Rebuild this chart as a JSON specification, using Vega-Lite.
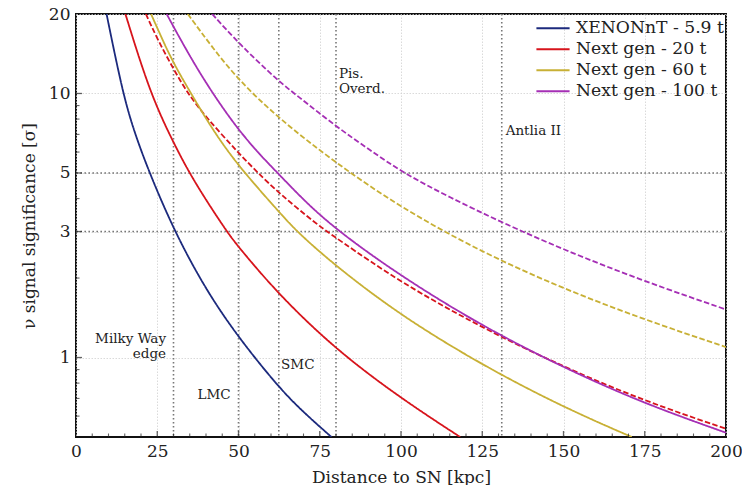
{
  "$schema": "https://vega.github.io/schema/vega-lite/v6.json",
  "width": 650,
  "height": 423,
  "autosize": {"type": "none"},
  "padding": {"left": 76, "top": 14, "right": 16, "bottom": 48},
  "background": "white",
  "config": {
    "font": "DejaVu Serif",
    "view": {"stroke": "#111111", "strokeWidth": 2},
    "axis": {"labelFont": "DejaVu Serif", "titleFont": "DejaVu Serif", "labelFontSize": 17, "titleFontSize": 17, "titleFontWeight": "normal", "labelColor": "#222222", "titleColor": "#222222", "domain": false, "ticks": false, "grid": true, "gridColor": "#d0d0d0", "gridDash": [1.5, 1.5], "gridWidth": 0.8, "labelFlush": false, "labelOverlap": false},
    "legend": {"labelFont": "DejaVu Serif", "labelFontSize": 17.2, "labelColor": "#222222", "orient": "none", "legendX": 459, "legendY": 4, "padding": 0, "symbolType": "stroke", "symbolStrokeWidth": 2, "symbolSize": 1100, "labelOffset": 5, "rowPadding": 0, "clipHeight": 20.3}
  },
  "datasets": {
    "curves": [
      {"d": 9.4, "sig": 20, "series": "XENONnT - 5.9 t", "style": "solid"},
      {"d": 14.4, "sig": 10, "series": "XENONnT - 5.9 t", "style": "solid"},
      {"d": 18, "sig": 7.1, "series": "XENONnT - 5.9 t", "style": "solid"},
      {"d": 22.6, "sig": 5, "series": "XENONnT - 5.9 t", "style": "solid"},
      {"d": 30.3, "sig": 3, "series": "XENONnT - 5.9 t", "style": "solid"},
      {"d": 40, "sig": 1.8, "series": "XENONnT - 5.9 t", "style": "solid"},
      {"d": 50, "sig": 1.19, "series": "XENONnT - 5.9 t", "style": "solid"},
      {"d": 62.4, "sig": 0.77, "series": "XENONnT - 5.9 t", "style": "solid"},
      {"d": 70, "sig": 0.62, "series": "XENONnT - 5.9 t", "style": "solid"},
      {"d": 78.6, "sig": 0.5, "series": "XENONnT - 5.9 t", "style": "solid"},

      {"d": 15.2, "sig": 20, "series": "Next gen - 20 t", "style": "solid"},
      {"d": 22.8, "sig": 10, "series": "Next gen - 20 t", "style": "solid"},
      {"d": 30, "sig": 6.5, "series": "Next gen - 20 t", "style": "solid"},
      {"d": 34.9, "sig": 5, "series": "Next gen - 20 t", "style": "solid"},
      {"d": 40, "sig": 3.95, "series": "Next gen - 20 t", "style": "solid"},
      {"d": 46.4, "sig": 3, "series": "Next gen - 20 t", "style": "solid"},
      {"d": 50, "sig": 2.62, "series": "Next gen - 20 t", "style": "solid"},
      {"d": 62.4, "sig": 1.73, "series": "Next gen - 20 t", "style": "solid"},
      {"d": 80, "sig": 1.07, "series": "Next gen - 20 t", "style": "solid"},
      {"d": 100, "sig": 0.7, "series": "Next gen - 20 t", "style": "solid"},
      {"d": 118.2, "sig": 0.5, "series": "Next gen - 20 t", "style": "solid"},

      {"d": 21.5, "sig": 20, "series": "Next gen - 20 t", "style": "dashed"},
      {"d": 25, "sig": 16.1, "series": "Next gen - 20 t", "style": "dashed"},
      {"d": 30, "sig": 12.36, "series": "Next gen - 20 t", "style": "dashed"},
      {"d": 34.4, "sig": 10, "series": "Next gen - 20 t", "style": "dashed"},
      {"d": 40, "sig": 8.13, "series": "Next gen - 20 t", "style": "dashed"},
      {"d": 50, "sig": 5.95, "series": "Next gen - 20 t", "style": "dashed"},
      {"d": 56, "sig": 5.0, "series": "Next gen - 20 t", "style": "dashed"},
      {"d": 62.4, "sig": 4.2, "series": "Next gen - 20 t", "style": "dashed"},
      {"d": 74, "sig": 3.2, "series": "Next gen - 20 t", "style": "dashed"},
      {"d": 80, "sig": 2.84, "series": "Next gen - 20 t", "style": "dashed"},
      {"d": 100, "sig": 1.92, "series": "Next gen - 20 t", "style": "dashed"},
      {"d": 125, "sig": 1.295, "series": "Next gen - 20 t", "style": "dashed"},
      {"d": 150, "sig": 0.92, "series": "Next gen - 20 t", "style": "dashed"},
      {"d": 175, "sig": 0.684, "series": "Next gen - 20 t", "style": "dashed"},
      {"d": 200, "sig": 0.537, "series": "Next gen - 20 t", "style": "dashed"},

      {"d": 23.1, "sig": 20, "series": "Next gen - 60 t", "style": "solid"},
      {"d": 26, "sig": 16.6, "series": "Next gen - 60 t", "style": "solid"},
      {"d": 30, "sig": 13.0, "series": "Next gen - 60 t", "style": "solid"},
      {"d": 35.4, "sig": 10, "series": "Next gen - 60 t", "style": "solid"},
      {"d": 42, "sig": 7.29, "series": "Next gen - 60 t", "style": "solid"},
      {"d": 50, "sig": 5.3, "series": "Next gen - 60 t", "style": "solid"},
      {"d": 62.4, "sig": 3.57, "series": "Next gen - 60 t", "style": "solid"},
      {"d": 67.9, "sig": 3.0, "series": "Next gen - 60 t", "style": "solid"},
      {"d": 80, "sig": 2.215, "series": "Next gen - 60 t", "style": "solid"},
      {"d": 100, "sig": 1.44, "series": "Next gen - 60 t", "style": "solid"},
      {"d": 125, "sig": 0.935, "series": "Next gen - 60 t", "style": "solid"},
      {"d": 150, "sig": 0.648, "series": "Next gen - 60 t", "style": "solid"},
      {"d": 171, "sig": 0.5, "series": "Next gen - 60 t", "style": "solid"},

      {"d": 34.4, "sig": 20, "series": "Next gen - 60 t", "style": "dashed"},
      {"d": 42, "sig": 14.9, "series": "Next gen - 60 t", "style": "dashed"},
      {"d": 50, "sig": 11.25, "series": "Next gen - 60 t", "style": "dashed"},
      {"d": 62.4, "sig": 8.03, "series": "Next gen - 60 t", "style": "dashed"},
      {"d": 80, "sig": 5.45, "series": "Next gen - 60 t", "style": "dashed"},
      {"d": 100, "sig": 3.69, "series": "Next gen - 60 t", "style": "dashed"},
      {"d": 125, "sig": 2.5, "series": "Next gen - 60 t", "style": "dashed"},
      {"d": 150, "sig": 1.82, "series": "Next gen - 60 t", "style": "dashed"},
      {"d": 175, "sig": 1.39, "series": "Next gen - 60 t", "style": "dashed"},
      {"d": 200, "sig": 1.095, "series": "Next gen - 60 t", "style": "dashed"},

      {"d": 27.9, "sig": 20, "series": "Next gen - 100 t", "style": "solid"},
      {"d": 30, "sig": 17.9, "series": "Next gen - 100 t", "style": "solid"},
      {"d": 35, "sig": 13.87, "series": "Next gen - 100 t", "style": "solid"},
      {"d": 40, "sig": 10.97, "series": "Next gen - 100 t", "style": "solid"},
      {"d": 45, "sig": 8.87, "series": "Next gen - 100 t", "style": "solid"},
      {"d": 50, "sig": 7.3, "series": "Next gen - 100 t", "style": "solid"},
      {"d": 56, "sig": 5.96, "series": "Next gen - 100 t", "style": "solid"},
      {"d": 62.4, "sig": 4.95, "series": "Next gen - 100 t", "style": "solid"},
      {"d": 70, "sig": 3.95, "series": "Next gen - 100 t", "style": "solid"},
      {"d": 80, "sig": 3.05, "series": "Next gen - 100 t", "style": "solid"},
      {"d": 100, "sig": 2.03, "series": "Next gen - 100 t", "style": "solid"},
      {"d": 125, "sig": 1.314, "series": "Next gen - 100 t", "style": "solid"},
      {"d": 150, "sig": 0.915, "series": "Next gen - 100 t", "style": "solid"},
      {"d": 175, "sig": 0.668, "series": "Next gen - 100 t", "style": "solid"},
      {"d": 200, "sig": 0.519, "series": "Next gen - 100 t", "style": "solid"},

      {"d": 41.9, "sig": 20, "series": "Next gen - 100 t", "style": "dashed"},
      {"d": 50, "sig": 15.5, "series": "Next gen - 100 t", "style": "dashed"},
      {"d": 62.4, "sig": 11.1, "series": "Next gen - 100 t", "style": "dashed"},
      {"d": 67.9, "sig": 9.85, "series": "Next gen - 100 t", "style": "dashed"},
      {"d": 80, "sig": 7.5, "series": "Next gen - 100 t", "style": "dashed"},
      {"d": 90.5, "sig": 6.1, "series": "Next gen - 100 t", "style": "dashed"},
      {"d": 100.7, "sig": 5.0, "series": "Next gen - 100 t", "style": "dashed"},
      {"d": 115, "sig": 4.04, "series": "Next gen - 100 t", "style": "dashed"},
      {"d": 131, "sig": 3.25, "series": "Next gen - 100 t", "style": "dashed"},
      {"d": 150, "sig": 2.56, "series": "Next gen - 100 t", "style": "dashed"},
      {"d": 175, "sig": 1.94, "series": "Next gen - 100 t", "style": "dashed"},
      {"d": 200, "sig": 1.52, "series": "Next gen - 100 t", "style": "dashed"}
    ]
  },
  "layer": [
    {
      "data": {"values": [{"d": 30}, {"d": 50}, {"d": 62.4}, {"d": 80}, {"d": 131}]},
      "mark": {"type": "rule", "color": "#777777", "strokeDash": [1.6, 2.4], "strokeWidth": 1.6},
      "encoding": {"x": {"field": "d", "type": "quantitative"}}
    },
    {
      "data": {"values": [{"sig": 3}, {"sig": 5}]},
      "mark": {"type": "rule", "color": "#777777", "strokeDash": [1.6, 2.4], "strokeWidth": 1.6},
      "encoding": {"y": {"field": "sig", "type": "quantitative"}}
    },
    {
      "data": {"name": "curves"},
      "mark": {"type": "line", "interpolate": "basis", "strokeWidth": 1.8, "clip": true},
      "encoding": {
        "x": {"field": "d", "type": "quantitative", "scale": {"domain": [0, 200], "nice": false, "zero": false},
              "axis": {"values": [0, 25, 50, 75, 100, 125, 150, 175, 200], "title": "Distance to SN [kpc]", "labelPadding": 6, "titlePadding": 10}},
        "y": {"field": "sig", "type": "quantitative", "scale": {"type": "log", "domain": [0.5, 20], "nice": false},
              "axis": {"values": [1, 3, 5, 10, 20], "format": "~g", "title": "ν signal significance [σ]", "labelPadding": 6, "titlePadding": 10}},
        "color": {"field": "series", "type": "nominal", "title": null,
                  "scale": {"domain": ["XENONnT - 5.9 t", "Next gen - 20 t", "Next gen - 60 t", "Next gen - 100 t"], "range": ["#1c2a7d", "#d7141c", "#c8b035", "#a52fb5"]}},
        "strokeDash": {"field": "style", "type": "nominal", "legend": null,
                       "scale": {"domain": ["solid", "dashed"], "range": [[1, 0], [5.5, 2.4]]}}
      }
    },
    {
      "data": {"values": [
        {"d": 80.9, "sig": 11.86, "label": "Pis."},
        {"d": 80.9, "sig": 10.4, "label": "Overd."},
        {"d": 132.2, "sig": 7.22, "label": "Antlia II"},
        {"d": 63.1, "sig": 0.933, "label": "SMC"}
      ]},
      "mark": {"type": "text", "align": "left", "baseline": "middle", "fontSize": 13.5, "font": "DejaVu Serif", "color": "#222222"},
      "encoding": {
        "x": {"field": "d", "type": "quantitative"},
        "y": {"field": "sig", "type": "quantitative"},
        "text": {"field": "label"}
      }
    },
    {
      "data": {"values": [
        {"d": 27.7, "sig": 1.18, "label": "Milky Way"},
        {"d": 27.7, "sig": 1.035, "label": "edge"},
        {"d": 47.6, "sig": 0.72, "label": "LMC"}
      ]},
      "mark": {"type": "text", "align": "right", "baseline": "middle", "fontSize": 13.5, "font": "DejaVu Serif", "color": "#222222"},
      "encoding": {
        "x": {"field": "d", "type": "quantitative"},
        "y": {"field": "sig", "type": "quantitative"},
        "text": {"field": "label"}
      }
    },
    {
      "data": {"values": [{"t": 25}, {"t": 50}, {"t": 75}, {"t": 100}, {"t": 125}, {"t": 150}, {"t": 175}]},
      "mark": {"type": "tick", "orient": "vertical", "size": 12, "thickness": 1.3, "color": "#222222", "clip": true},
      "encoding": {"x": {"field": "t", "type": "quantitative"}, "y": {"datum": 0.5}}
    },
    {
      "data": {"values": [{"t": 5}, {"t": 10}, {"t": 15}, {"t": 20}, {"t": 30}, {"t": 35}, {"t": 40}, {"t": 45}, {"t": 55}, {"t": 60}, {"t": 65}, {"t": 70}, {"t": 80}, {"t": 85}, {"t": 90}, {"t": 95}, {"t": 105}, {"t": 110}, {"t": 115}, {"t": 120}, {"t": 130}, {"t": 135}, {"t": 140}, {"t": 145}, {"t": 155}, {"t": 160}, {"t": 165}, {"t": 170}, {"t": 180}, {"t": 185}, {"t": 190}, {"t": 195}]},
      "mark": {"type": "tick", "orient": "vertical", "size": 7, "thickness": 1.1, "color": "#222222", "clip": true},
      "encoding": {"x": {"field": "t", "type": "quantitative"}, "y": {"datum": 0.5}}
    },
    {
      "data": {"values": [{"t": 1}, {"t": 3}, {"t": 5}, {"t": 10}]},
      "mark": {"type": "tick", "orient": "horizontal", "size": 12, "thickness": 1.3, "color": "#222222", "clip": true},
      "encoding": {"y": {"field": "t", "type": "quantitative"}, "x": {"datum": 0}}
    },
    {
      "data": {"values": [{"t": 0.6}, {"t": 0.7}, {"t": 0.8}, {"t": 0.9}, {"t": 2}, {"t": 4}, {"t": 6}, {"t": 7}, {"t": 8}, {"t": 9}]},
      "mark": {"type": "tick", "orient": "horizontal", "size": 7, "thickness": 1.1, "color": "#222222", "clip": true},
      "encoding": {"y": {"field": "t", "type": "quantitative"}, "x": {"datum": 0}}
    }
  ]
}
